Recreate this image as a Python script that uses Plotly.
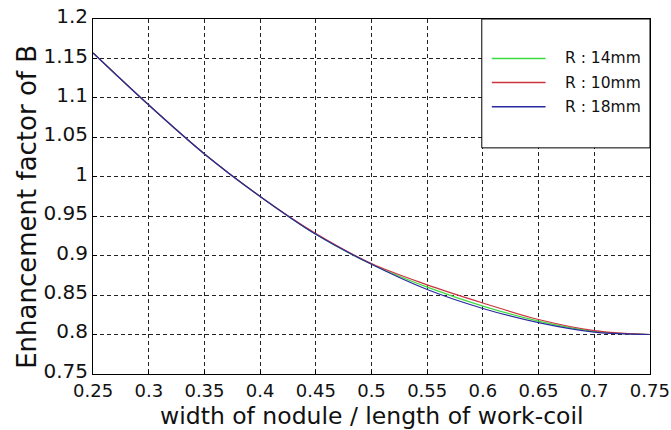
import plotly.graph_objects as go

# ---- data ----
ratio = [0.25, 0.30, 0.35, 0.40, 0.45, 0.50, 0.55, 0.60, 0.65, 0.70, 0.75]
r14 = [1.157, 1.091, 1.029, 0.975, 0.927, 0.889, 0.860, 0.836, 0.817, 0.804, 0.800]
r10 = [1.157, 1.091, 1.029, 0.975, 0.928, 0.890, 0.863, 0.840, 0.819, 0.805, 0.800]
r18 = [1.157, 1.091, 1.029, 0.975, 0.927, 0.889, 0.857, 0.833, 0.815, 0.803, 0.800]

series_names = ["R : 14mm", "R : 10mm", "R : 18mm"]
series_vals = [r14, r10, r18]
series_colors = ["#3ddc3d", "#cc3340", "#2a2aa0"]

x_ticks = [0.25, 0.3, 0.35, 0.4, 0.45, 0.5, 0.55, 0.6, 0.65, 0.7, 0.75]
x_ticklabels = ["0.25", "0.3", "0.35", "0.4", "0.45", "0.5", "0.55", "0.6", "0.65", "0.7", "0.75"]
y_ticks = [0.75, 0.8, 0.85, 0.9, 0.95, 1.0, 1.05, 1.1, 1.15, 1.2]
y_ticklabels = ["0.75", "0.8", "0.85", "0.9", "0.95", "1", "1.05", "1.1", "1.15", "1.2"]

x_title = "width of nodule / length of work-coil"
y_title = "Enhancement factor of B"

FONT = "DejaVu Sans"

fig = go.Figure()
for name, vals, col in zip(series_names, series_vals, series_colors):
    fig.add_trace(go.Scatter(x=ratio, y=vals, mode="lines", name=name,
                             line=dict(color=col, width=1.2, shape="spline"),
                             showlegend=False))

# manual legend box (MATLAB style)
shapes = [dict(type="rect", xref="paper", yref="paper", x0=0.698, x1=1.0, y0=0.637, y1=1.0,
               line=dict(color="black", width=1), fillcolor="white", layer="above")]
annotations = []
leg_y = [0.889, 0.821, 0.753]
for name, col, yy in zip(series_names, series_colors, leg_y):
    shapes.append(dict(type="line", xref="paper", yref="paper", x0=0.716, x1=0.8125, y0=yy, y1=yy,
                       line=dict(color=col, width=1.5), layer="above"))
    annotations.append(dict(xref="paper", yref="paper", x=0.843, y=yy, text=name, showarrow=False,
                            xanchor="left", yanchor="middle",
                            font=dict(family=FONT, size=15.5, color="#111")))

# axis titles placed as annotations
annotations.append(dict(xref="paper", yref="paper", x=0.501, y=-0.1195, text=x_title,
                        showarrow=False, xanchor="center", yanchor="middle",
                        font=dict(family=FONT, size=23.5, color="#111")))
annotations.append(dict(xref="paper", yref="paper", x=-0.119, y=0.47, text=y_title,
                        showarrow=False, xanchor="center", yanchor="middle", textangle=-90,
                        font=dict(family=FONT, size=26, color="#111")))

fig.update_layout(
    width=671, height=430,
    margin=dict(l=93, r=21, t=19, b=56),
    paper_bgcolor="white", plot_bgcolor="white",
    shapes=shapes, annotations=annotations,
    font=dict(family=FONT, color="#111"),
)
fig.update_xaxes(range=[0.2499, 0.7501], tickvals=x_ticks, ticktext=x_ticklabels,
                 showline=True, linecolor="black", linewidth=1, mirror=True,
                 showgrid=True, gridcolor="#222", gridwidth=1, griddash="4px,3px",
                 ticks="inside", ticklen=4, tickcolor="black",
                 ticklabeloverflow="allow", automargin=False,
                 tickfont=dict(family=FONT, size=18, color="#111"),
                 zeroline=False)
fig.update_yaxes(range=[0.7499, 1.2001], tickvals=y_ticks, ticktext=y_ticklabels,
                 showline=True, linecolor="black", linewidth=1, mirror=True,
                 showgrid=True, gridcolor="#222", gridwidth=1, griddash="4px,3px",
                 ticks="inside", ticklen=4, tickcolor="black",
                 ticklabeloverflow="allow", automargin=False, ticklabelshift=-3,
                 tickfont=dict(family=FONT, size=20, color="#111"),
                 zeroline=False)

fig.write_html("out.html")
